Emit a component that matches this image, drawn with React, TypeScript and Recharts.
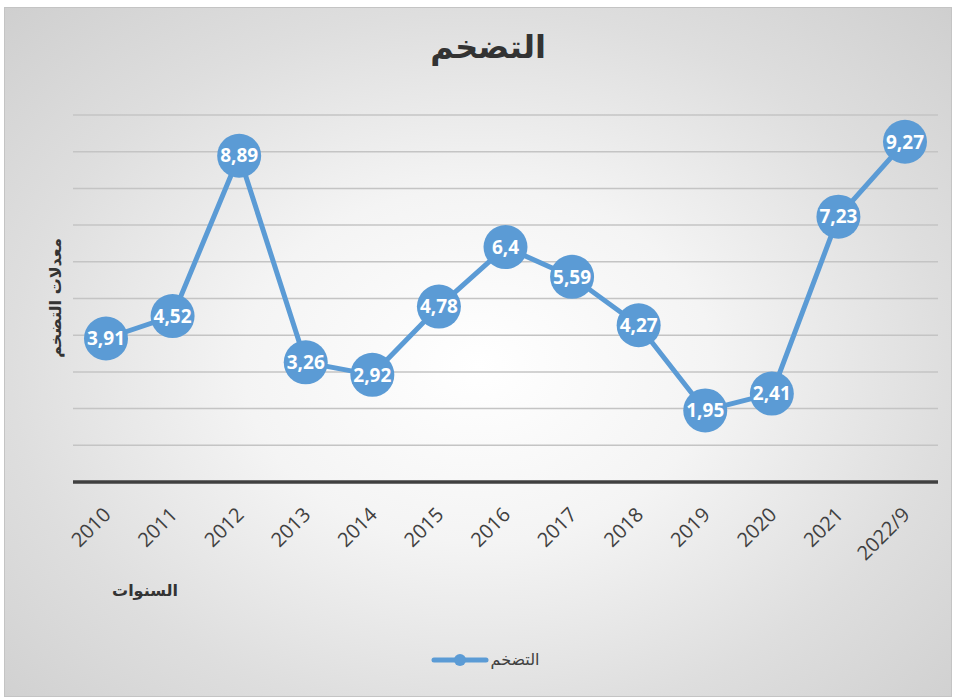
import React from 'react';
import { LineChart, Line, XAxis, YAxis, CartesianGrid, LabelList, Legend } from 'recharts';

const years = ['2010', '2011', '2012', '2013', '2014', '2015', '2016', '2017', '2018', '2019', '2020', '2021', '2022/9'];
const inflation = [3.91, 4.52, 8.89, 3.26, 2.92, 4.78, 6.4, 5.59, 4.27, 1.95, 2.41, 7.23, 9.27];
const yTicks = [0, 1, 2, 3, 4, 5, 6, 7, 8, 9, 10];

const seriesName = 'التضخم';
const title = 'التضخم';
const yLabel = 'معدلات التضخم';
const xLabel = 'السنوات';

const data = years.map((year, i) => ({ year, value: inflation[i] }));

const blue = '#5b9bd5';
const arabicFont = '"DejaVu Sans", sans-serif';

const YearTick = (props: any) => {
  const { x, y, payload } = props;
  return (
    <g transform={`translate(${x + 6},${y + 26})`}>
      <text
        transform="rotate(-45)"
        textAnchor="end"
        fontFamily='"Open Sans", sans-serif'
        fontSize={20}
        fill="#404040"
      >
        {payload.value}
      </text>
    </g>
  );
};

const LegendContent = () => (
  <div style={{ display: 'flex', justifyContent: 'center', alignItems: 'center', paddingLeft: 14 }}>
    <svg width={58} height={14}>
      <line x1={3} y1={7} x2={55} y2={7} stroke={blue} strokeWidth={5} strokeLinecap="round" />
      <circle cx={29} cy={7} r={6} fill={blue} />
    </svg>
    <span style={{ fontFamily: arabicFont, fontSize: 16, color: '#404040', marginLeft: 2 }}>{seriesName}</span>
  </div>
);

export default function App() {
  return (
    <div style={{ position: 'absolute', left: 0, top: 0, width: 956, height: 698 }}>
      <div
        style={{
          position: 'absolute',
          left: 4,
          top: 7,
          width: 946,
          height: 688,
          border: '1px solid #c4c4c4',
          background: 'radial-gradient(ellipse at 50% 52%, #ffffff 0%, #f4f4f4 35%, #dedede 70%, #cfcfcf 100%)',
        }}
      />
      <div
        style={{
          position: 'absolute',
          left: 0,
          top: 28,
          width: 976,
          textAlign: 'center',
          fontFamily: arabicFont,
          fontWeight: 'bold',
          fontSize: 32,
          color: '#333333',
          direction: 'rtl',
        }}
      >
        {title}
      </div>
      <div
        style={{
          position: 'absolute',
          left: 55,
          top: 298,
          transform: 'translate(-50%, -50%) rotate(-90deg)',
          whiteSpace: 'nowrap',
          fontFamily: arabicFont,
          fontWeight: 'bold',
          fontSize: 16,
          color: '#333333',
          direction: 'rtl',
        }}
      >
        {yLabel}
      </div>
      <div
        style={{
          position: 'absolute',
          left: 145,
          top: 590,
          transform: 'translate(-50%, -50%)',
          whiteSpace: 'nowrap',
          fontFamily: arabicFont,
          fontWeight: 'bold',
          fontSize: 16,
          color: '#333333',
          direction: 'rtl',
        }}
      >
        {xLabel}
      </div>
      <div style={{ position: 'absolute', left: 0, top: 0 }}>
        <LineChart
          width={956}
          height={698}
          data={data}
          margin={{ top: 115, right: 18, left: 73, bottom: 137 }}
        >
          <CartesianGrid horizontal vertical={false} stroke="#c4c4c4" strokeWidth={1.5} />
          <YAxis hide domain={[0, 10]} ticks={yTicks} />
          <XAxis
            dataKey="year"
            height={60}
            padding={{ left: 33, right: 33 }}
            axisLine={{ stroke: '#404040', strokeWidth: 3.5 }}
            tickLine={false}
            tick={<YearTick />}
            interval={0}
          />
          <Legend
            content={<LegendContent />}
            wrapperStyle={{ position: 'absolute', top: 650, left: 0, width: 956, bottom: 'auto' }}
          />
          <Line
            type="linear"
            dataKey="value"
            name={seriesName}
            stroke={blue}
            strokeWidth={5}
            dot={{ r: 22, fill: blue, stroke: blue, strokeWidth: 0 }}
            activeDot={false}
            isAnimationActive={false}
          >
            <LabelList
              dataKey="value"
              position="center"
              formatter={(v: any) => String(v).replace('.', ',')}
              fill="#ffffff"
              fontFamily='"Open Sans", sans-serif'
              fontWeight="bold"
              fontSize={19}
            />
          </Line>
        </LineChart>
      </div>
    </div>
  );
}
